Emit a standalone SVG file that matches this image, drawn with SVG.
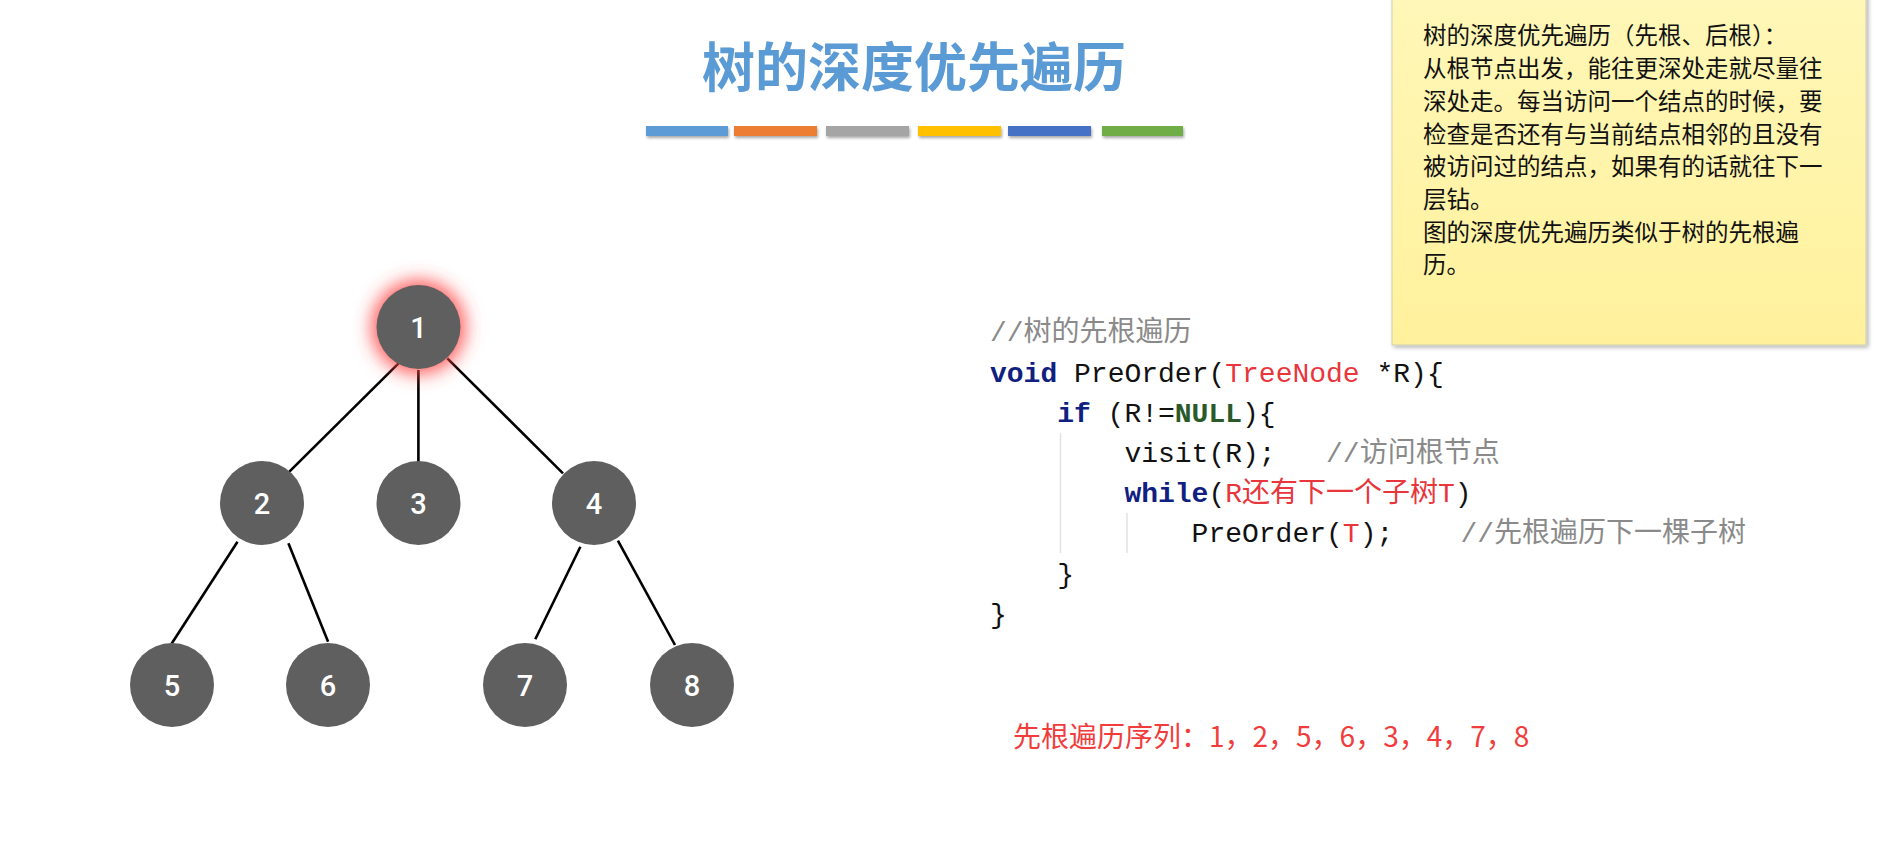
<svg xmlns="http://www.w3.org/2000/svg" width="1880" height="862" viewBox="0 0 1880 862">
<defs>
<filter id="glowBlur" x="-100%" y="-100%" width="300%" height="300%">
<feGaussianBlur stdDeviation="9"/>
</filter>
<linearGradient id="note" x1="0" y1="0" x2="0" y2="1">
<stop offset="0" stop-color="#fff7b8"/>
<stop offset="1" stop-color="#fff19c"/>
</linearGradient>
<filter id="shadow" x="-20%" y="-20%" width="140%" height="180%">
<feGaussianBlur in="SourceAlpha" stdDeviation="1.5"/>
<feOffset dx="1" dy="2" result="b"/>
<feComponentTransfer><feFuncA type="linear" slope="0.35"/></feComponentTransfer>
<feMerge><feMergeNode/><feMergeNode in="SourceGraphic"/></feMerge>
</filter>
<filter id="noteShadow" x="-5%" y="-5%" width="110%" height="110%">
<feGaussianBlur in="SourceAlpha" stdDeviation="2"/>
<feOffset dx="2" dy="2" result="b"/>
<feComponentTransfer><feFuncA type="linear" slope="0.3"/></feComponentTransfer>
<feMerge><feMergeNode/><feMergeNode in="SourceGraphic"/></feMerge>
</filter>
</defs>
<style>
.node circle.body{fill:#5f5f5f}
.node text{font-family:Roboto,"Liberation Sans",sans-serif;font-weight:500;font-size:29px;fill:#ffffff;text-anchor:middle}
.edge{stroke:#000;stroke-width:2.6;fill:none}
.note{font-family:"Noto Sans CJK SC","Noto Sans",sans-serif;font-size:23.5px;fill:#111}
.code{font-family:"Liberation Mono","Noto Sans CJK SC",monospace;font-size:28px;fill:#111}
.kw{fill:#102080;font-weight:bold}
.nl{fill:#2a5a2a;font-weight:bold}
.rd{fill:#e8363c}
.cm{fill:#8a8a8a}
.guide{stroke:#e2e2e2;stroke-width:1.5}
</style>
<rect width="1880" height="862" fill="#ffffff"/>

<!-- title -->
<text x="914" y="87" text-anchor="middle" font-family="'Noto Sans CJK SC','Noto Sans',sans-serif" font-weight="bold" font-size="53" fill="#5b9bd5">树的深度优先遍历</text>
<g id="bars" filter="url(#shadow)">
<rect x="646" y="126" width="82" height="10" fill="#5b9bd5"/>
<rect x="734" y="126" width="83" height="10" fill="#ed7d31"/>
<rect x="826" y="126" width="83" height="10" fill="#a5a5a5"/>
<rect x="918" y="126" width="83" height="10" fill="#ffc000"/>
<rect x="1008" y="126" width="83" height="10" fill="#4472c4"/>
<rect x="1102" y="126" width="81" height="10" fill="#70ad47"/>
</g>

<!-- connectors -->
<g id="connectors">
<line class="edge" x1="399.3" y1="362.7" x2="286.6" y2="474.3"/>
<line class="edge" x1="418.4" y1="370" x2="418.4" y2="462.7"/>
<line class="edge" x1="447.3" y1="358.3" x2="563" y2="473.3"/>
<line class="edge" x1="237.5" y1="541.7" x2="171.4" y2="644"/>
<line class="edge" x1="288.4" y1="543.3" x2="328.1" y2="641.7"/>
<line class="edge" x1="580.4" y1="546.7" x2="535.3" y2="639.3"/>
<line class="edge" x1="617.9" y1="540.7" x2="675" y2="645"/>
</g>

<!-- nodes -->
<g id="node1" class="node">
<circle cx="418.5" cy="327" r="47" fill="#ff4040" fill-opacity="0.85" filter="url(#glowBlur)"/>
<circle class="body" cx="418.5" cy="327" r="42"/>
<text x="418.5" y="337.5">1</text>
</g>
<g id="node2" class="node">
<circle class="body" cx="262" cy="503" r="42"/>
<text x="262" y="513.5">2</text>
</g>
<g id="node3" class="node">
<circle class="body" cx="418.5" cy="503" r="42"/>
<text x="418.5" y="513.5">3</text>
</g>
<g id="node4" class="node">
<circle class="body" cx="594" cy="503" r="42"/>
<text x="594" y="513.5">4</text>
</g>
<g id="node5" class="node">
<circle class="body" cx="172" cy="685" r="42"/>
<text x="172" y="695.5">5</text>
</g>
<g id="node6" class="node">
<circle class="body" cx="328" cy="685" r="42"/>
<text x="328" y="695.5">6</text>
</g>
<g id="node7" class="node">
<circle class="body" cx="525" cy="685" r="42"/>
<text x="525" y="695.5">7</text>
</g>
<g id="node8" class="node">
<circle class="body" cx="692" cy="685" r="42"/>
<text x="692" y="695.5">8</text>
</g>

<!-- code -->
<g id="code">
<line class="guide" x1="1060.5" y1="433" x2="1060.5" y2="553"/>
<line class="guide" x1="1127" y1="513" x2="1127" y2="553"/>
<text class="code" xml:space="preserve" x="990" y="341"><tspan class="cm">//树的先根遍历</tspan></text>
<text class="code" xml:space="preserve" x="990" y="381.5"><tspan class="kw">void</tspan> PreOrder(<tspan class="rd">TreeNode</tspan> *R){</text>
<text class="code" xml:space="preserve" x="1057.2" y="421.7"><tspan class="kw">if</tspan> (R!=<tspan class="nl">NULL</tspan>){</text>
<text class="code" xml:space="preserve" x="1124.4" y="462"><tspan>visit(R);   </tspan><tspan class="cm">//访问根节点</tspan></text>
<text class="code" xml:space="preserve" x="1124.4" y="502.2"><tspan class="kw">while</tspan>(<tspan class="rd">R还有下一个子树T</tspan>)</text>
<text class="code" xml:space="preserve" x="1191.6" y="542.4">PreOrder(<tspan class="rd">T</tspan>);    <tspan class="cm">//先根遍历下一棵子树</tspan></text>
<text class="code" xml:space="preserve" x="1057.2" y="582.6">}</text>
<text class="code" xml:space="preserve" x="990" y="622.8">}</text>
</g>

<!-- sequence -->
<text id="sequence" x="1013" y="747" font-family="'Noto Sans CJK SC','Noto Sans',sans-serif" font-size="28" fill="#f23c3c">先根遍历序列：1，2，5，6，3，4，7，8</text>

<!-- note -->
<g id="note">
<rect x="1392" y="-6" width="474" height="351" fill="url(#note)" stroke="#cfcfb0" stroke-width="1" filter="url(#noteShadow)"/>
<text class="note" x="1423" y="44">树的深度优先遍历（先根、后根）：</text>
<text class="note" x="1423" y="77">从根节点出发，能往更深处走就尽量往</text>
<text class="note" x="1423" y="110">深处走。每当访问一个结点的时候，要</text>
<text class="note" x="1423" y="143">检查是否还有与当前结点相邻的且没有</text>
<text class="note" x="1423" y="175">被访问过的结点，如果有的话就往下一</text>
<text class="note" x="1423" y="208">层钻。</text>
<text class="note" x="1423" y="241">图的深度优先遍历类似于树的先根遍</text>
<text class="note" x="1423" y="273">历。</text>
</g>
</svg>
